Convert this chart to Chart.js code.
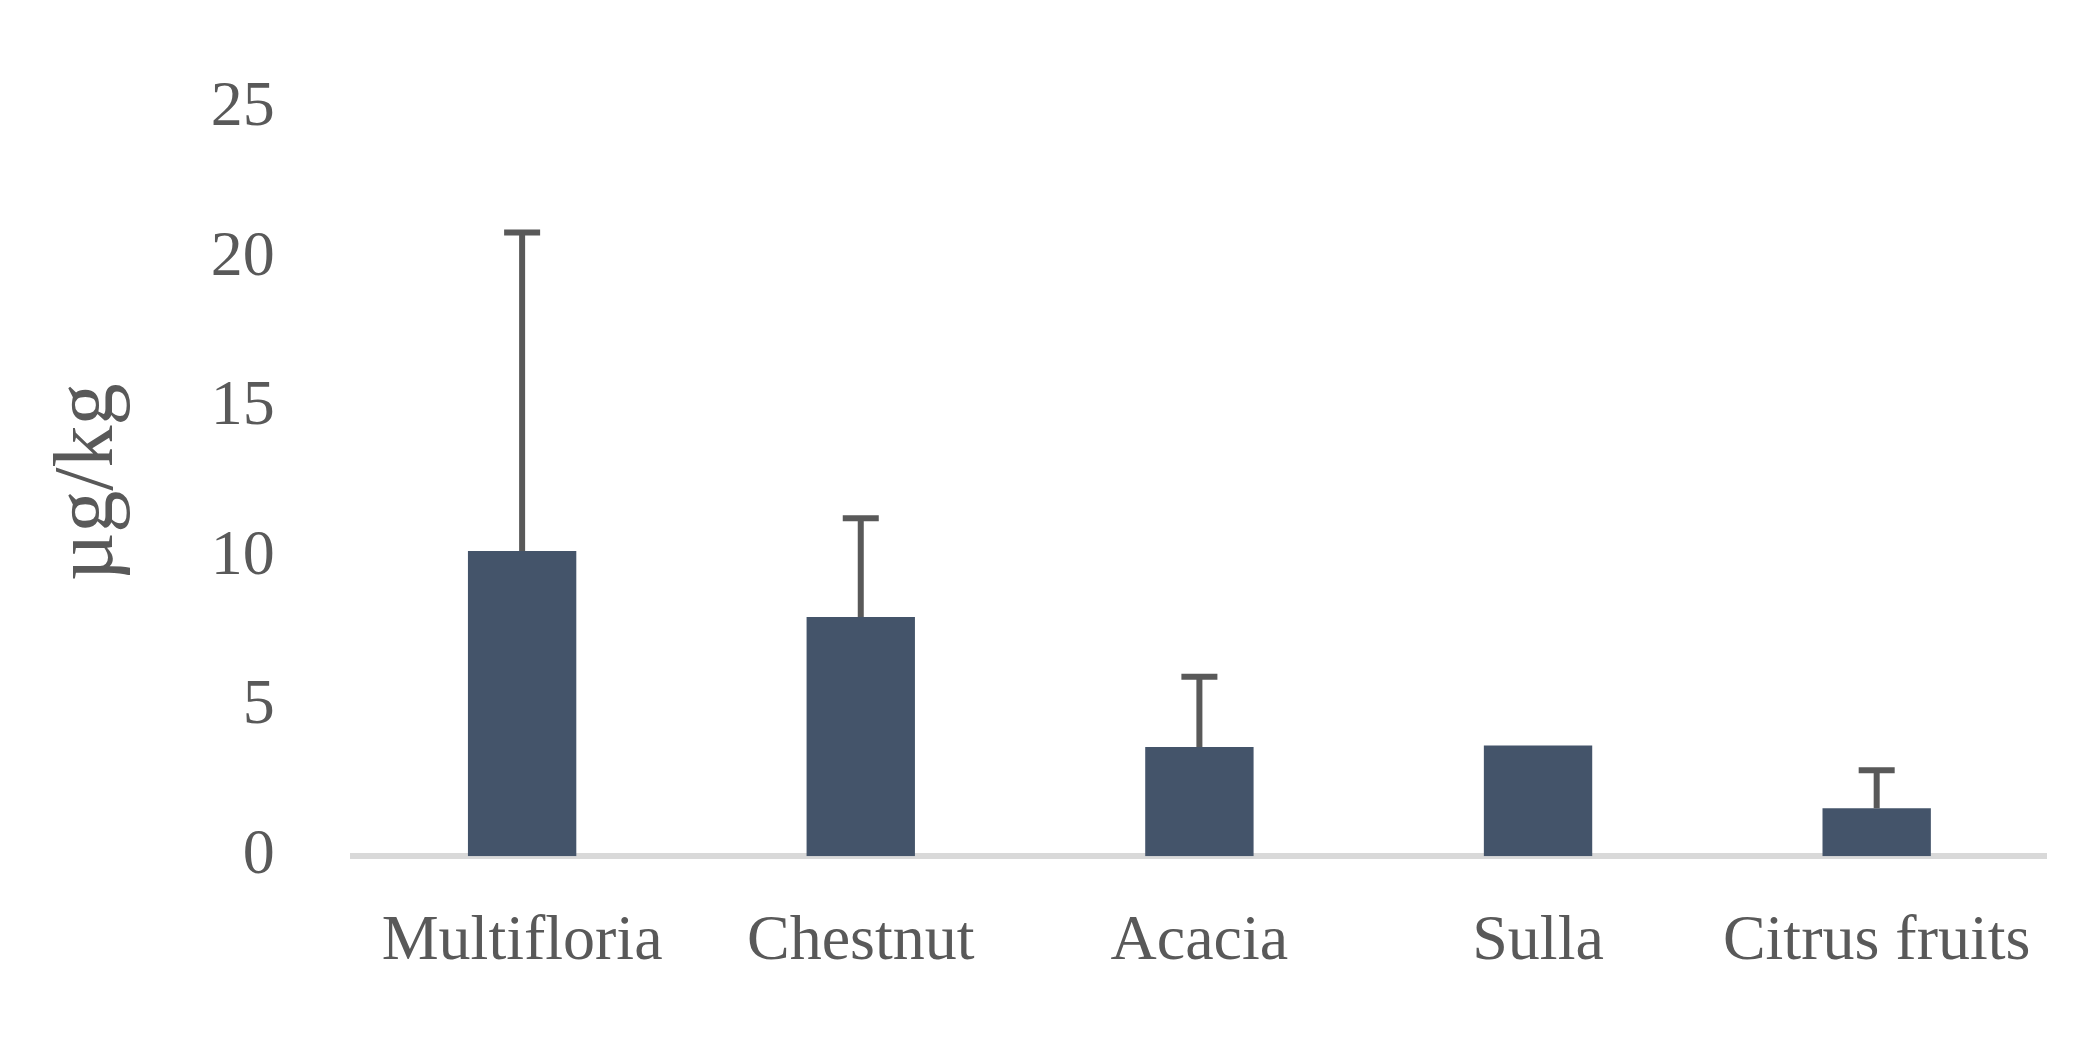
<!DOCTYPE html>
<html>
<head>
<meta charset="utf-8">
<script src="https://cdn.jsdelivr.net/npm/chart.js@4"></script>
<style>
  html, body { margin: 0; padding: 0; background: #fff; }
  #wrap { width: 2082px; height: 1041px; }
</style>
</head>
<body>
<div id="wrap"><canvas id="myChart"></canvas></div>
<script>
'use strict';

const categories = ['Multifloria', 'Chestnut', 'Acacia', 'Sulla', 'Citrus fruits'];
const means = [10.2, 8.0, 3.65, 3.7, 1.6];
const errUpper = [20.85, 11.3, 6.0, 3.7, 2.87];
const yTicks = [0, 5, 10, 15, 20, 25];

// draws upper error bars through the y scale
const errorBars = {
    id: 'errorBars',
    afterDatasetsDraw(chart) {
        const c = chart.ctx;
        const x = chart.scales.x, y = chart.scales.y;
        c.save();
        c.strokeStyle = '#595959';
        c.lineWidth = 6;
        errUpper.forEach((v, i) => {
            if (v <= means[i]) return;
            const px = x.getPixelForValue(i);
            const top = y.getPixelForValue(v);
            c.beginPath();
            c.moveTo(px, y.getPixelForValue(means[i]));
            c.lineTo(px, top);
            c.moveTo(px - 18, top);
            c.lineTo(px + 18, top);
            c.stroke();
        });
        c.restore();
    }
};

const font = { family: '"Liberation Serif", "DejaVu Serif", serif', size: 64 };

new Chart(document.getElementById('myChart'), {
    type: 'bar',
    data: {
        labels: categories,
        datasets: [{
            data: means,
            backgroundColor: '#44546A',
            categoryPercentage: 0.32,
            barPercentage: 1.0
        }]
    },
    options: {
        responsive: true,
        maintainAspectRatio: false,
        animation: false,
        layout: { padding: { left: 40, right: 36, top: 40, bottom: 20 } },
        plugins: { legend: { display: false }, tooltip: { enabled: false } },
        scales: {
            x: {
                grid: { display: false },
                border: { color: '#d9d9d9', width: 6 },
                ticks: { color: '#595959', font: font, padding: 40, maxRotation: 0 }
            },
            y: {
                min: 0, max: 25,
                afterBuildTicks: s => { s.ticks = yTicks.map(v => ({ value: v })); },
                grid: { display: false },
                border: { display: false },
                ticks: { color: '#595959', font: font, padding: 70 },
                title: { display: true, text: 'µg/kg', color: '#595959',
                         font: { family: font.family, size: 84 }, padding: 0 }
            }
        }
    },
    plugins: [errorBars]
});
</script>
</body>
</html>
